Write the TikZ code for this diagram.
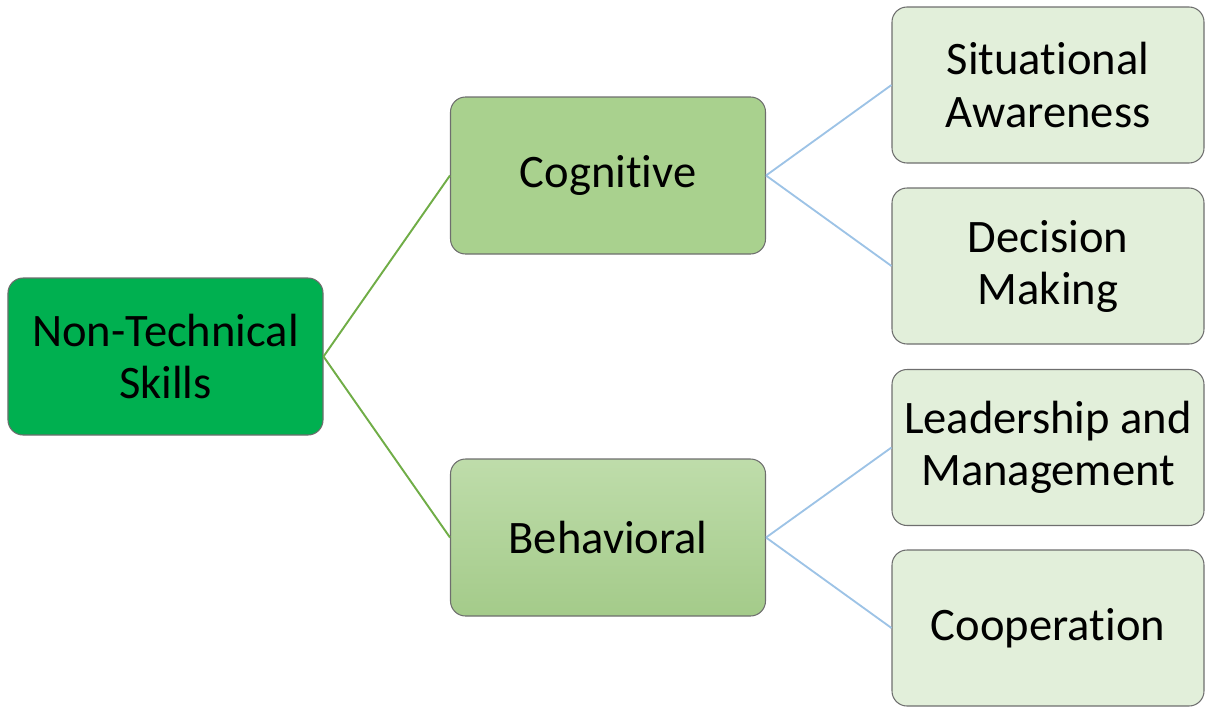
\documentclass[tikz,border=0pt]{standalone}
\usepackage{fontspec}
\setmainfont{Carlito}[RawFeature=-liga]
\usepackage{xcolor}
\usetikzlibrary{positioning}
\definecolor{rootgreen}{HTML}{00B050}
\definecolor{midgreen}{HTML}{A9D18E}
\definecolor{leafgreen}{HTML}{E2EFDA}
\definecolor{linkgreen}{HTML}{70AD47}
\definecolor{linkblue}{HTML}{9DC3E6}
\definecolor{boxedge}{HTML}{6E6E6E}

\begin{document}
\begin{tikzpicture}[
    skillbox/.style={draw=boxedge, line width=0.6pt, rounded corners=0.3cm, inner sep=0pt,
      minimum width=6.3cm, minimum height=3.14cm, align=center,
      font=\fontsize{26.5}{29.6}\selectfont},
    leafbox/.style={skillbox, fill=leafgreen, minimum width=6.24cm, minimum height=3.12cm},
    greenlink/.style={linkgreen, line width=1.1pt},
    bluelink/.style={linkblue, line width=1.05pt}]
  \useasboundingbox (0, 0) rectangle (24.1, -14.14);
  \node[skillbox, fill=rootgreen] (nts) at (3.31, -7.13) {Non-Technical\\Skills};
  \node[skillbox, fill=midgreen] (cog) at (12.16, -3.51) {Cognitive};
  \node[skillbox, top color=midgreen!75!white, bottom color=midgreen!97!black] (beh) at (12.16, -10.75) {Behavioral};
  \node[leafbox] (sa) at (20.96, -1.70) {Situational\\Awareness};
  \node[leafbox] (dm) at (20.96, -5.32) {Decision\\Making};
  \node[leafbox] (lm) at (20.96, -8.95) {Leadership and\\Management};
  \node[leafbox] (coop) at (20.96, -12.56) {Cooperation};
  \draw[greenlink] (nts.east) -- (cog.west);
  \draw[greenlink] (nts.east) -- (beh.west);
  \draw[bluelink] (cog.east) -- (sa.west);
  \draw[bluelink] (cog.east) -- (dm.west);
  \draw[bluelink] (beh.east) -- (lm.west);
  \draw[bluelink] (beh.east) -- (coop.west);
\end{tikzpicture}
\end{document}
